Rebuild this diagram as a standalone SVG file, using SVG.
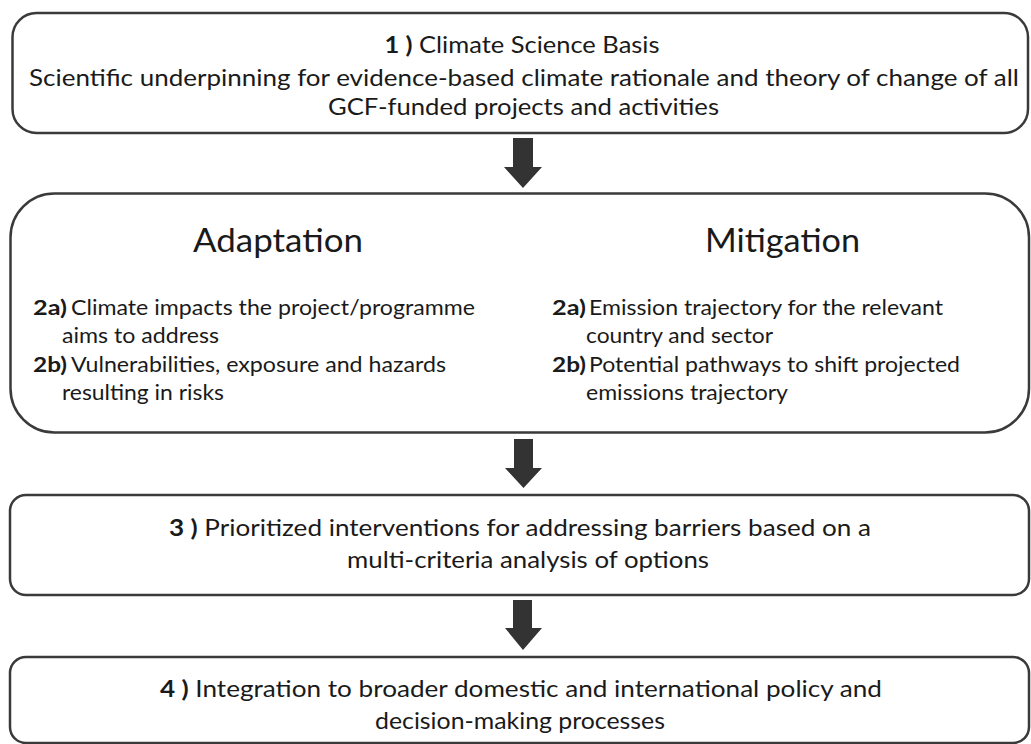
<svg xmlns="http://www.w3.org/2000/svg" width="1031" height="744" viewBox="0 0 1031 744">
<defs>
<style>
.box{fill:#fff;stroke:#3a3a3a;stroke-width:2.5}
.t{font-family:Lato,"Open Sans","Liberation Sans",sans-serif;fill:#1a1a1a;font-size:23px}
.c{text-anchor:middle}
.h{font-size:33px}
.s{font-size:21.5px}
.b{font-weight:bold}
.arrow{fill:#333}
</style>
</defs>
<rect width="1031" height="744" fill="#fff"/>
<g id="node1">
<rect class="box" x="12.5" y="13" width="1015.5" height="120" rx="24"/>
<text class="t c" x="522" y="53" textLength="275" lengthAdjust="spacingAndGlyphs"><tspan class="b">1 )</tspan> Climate Science Basis</text>
<text class="t c" x="524" y="86" textLength="990" lengthAdjust="spacingAndGlyphs">Scientific underpinning for evidence-based climate rationale and theory of change of all</text>
<text class="t c" x="523.5" y="115" textLength="391" lengthAdjust="spacingAndGlyphs">GCF-funded projects and activities</text>
</g>
<g id="node2">
<rect class="box" x="10.5" y="193.5" width="1018.5" height="239" rx="44"/>
<text class="t h c" x="278" y="252" textLength="170" lengthAdjust="spacingAndGlyphs">Adaptation</text>
<text class="t h c" x="782.5" y="252" textLength="155" lengthAdjust="spacingAndGlyphs">Mitigation</text>
<text class="t s b" x="33" y="315" textLength="34" lengthAdjust="spacingAndGlyphs">2a)</text>
<text class="t s" x="71" y="315" textLength="404" lengthAdjust="spacingAndGlyphs">Climate impacts the project/programme</text>
<text class="t s" x="62" y="343" textLength="157" lengthAdjust="spacingAndGlyphs">aims to address</text>
<text class="t s b" x="33" y="372" textLength="34" lengthAdjust="spacingAndGlyphs">2b)</text>
<text class="t s" x="71" y="372" textLength="375" lengthAdjust="spacingAndGlyphs">Vulnerabilities, exposure and hazards</text>
<text class="t s" x="62" y="400" textLength="162" lengthAdjust="spacingAndGlyphs">resulting in risks</text>
<text class="t s b" x="552" y="315" textLength="34" lengthAdjust="spacingAndGlyphs">2a)</text>
<text class="t s" x="589" y="315" textLength="354" lengthAdjust="spacingAndGlyphs">Emission trajectory for the relevant</text>
<text class="t s" x="586" y="343" textLength="187" lengthAdjust="spacingAndGlyphs">country and sector</text>
<text class="t s b" x="552" y="372" textLength="34" lengthAdjust="spacingAndGlyphs">2b)</text>
<text class="t s" x="589" y="372" textLength="371" lengthAdjust="spacingAndGlyphs">Potential pathways to shift projected</text>
<text class="t s" x="586" y="400" textLength="202" lengthAdjust="spacingAndGlyphs">emissions trajectory</text>
</g>
<g id="node3">
<rect class="box" x="10" y="495" width="1019" height="100" rx="16"/>
<text class="t c" x="520" y="536" textLength="702" lengthAdjust="spacingAndGlyphs"><tspan class="b">3 )</tspan> Prioritized interventions for addressing barriers based on a</text>
<text class="t c" x="528" y="568" textLength="362" lengthAdjust="spacingAndGlyphs">multi-criteria analysis of options</text>
</g>
<g id="node4">
<rect class="box" x="10" y="657" width="1019" height="86" rx="16"/>
<text class="t c" x="521" y="697" textLength="722" lengthAdjust="spacingAndGlyphs"><tspan class="b">4 )</tspan> Integration to broader domestic and international policy and</text>
<text class="t c" x="520" y="729" textLength="290" lengthAdjust="spacingAndGlyphs">decision-making processes</text>
</g>
<g id="connectors">
<polygon class="arrow" points="513,138 533,138 533,167 542,167 523,188 504,167 513,167"/>
<polygon class="arrow" points="514,439 533,439 533,468 542,468 523.5,488 505,468 514,468"/>
<polygon class="arrow" points="513,600 532,600 532,628 542,628 523,650 505,628 513,628"/>
</g>
</svg>
